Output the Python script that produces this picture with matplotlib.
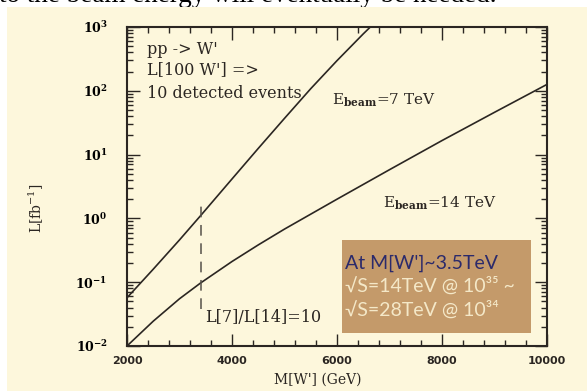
import numpy as np
import matplotlib
matplotlib.use("Agg")
import matplotlib.pyplot as plt
from matplotlib.patches import Rectangle
from matplotlib.ticker import MultipleLocator, LogLocator, FuncFormatter, NullFormatter

# luminosity needed for 10 detected W' events
mass_7 = [2000, 2500, 3000, 3400, 4000, 4500, 5000, 5500, 6000, 6500, 7000]
lumi_7 = [0.057, 0.16, 0.46, 1.1, 4.15, 12.5, 37, 108, 297, 780, 1960]

mass_14 = [2000, 2500, 3000, 3400, 4000, 4500, 5000, 6000, 7000, 8000, 9000, 10000]
lumi_14 = [0.010, 0.0245, 0.055, 0.097, 0.211, 0.384, 0.68, 2.0, 5.8, 16.6, 46, 126]

ratio_mass = [3400, 3400]
ratio_lumi = [0.038, 1.9]

x_ticks = [2000, 4000, 6000, 8000, 10000]

cream = "#fdf7dc"
ink = "#2b2622"

plt.rcParams["mathtext.fontset"] = "dejavuserif"

fig = plt.figure(figsize=(5.87, 3.91), dpi=100, facecolor="white")
fig.patches.append(Rectangle((7 / 587, 0), 1, (391 - 7) / 391, transform=fig.transFigure,
                             facecolor=cream, edgecolor="none", zorder=-1))
fig.text(-0.002, 0.994, "to the beam energy will eventually be needed.", family="Liberation Serif",
         fontsize=19.5, va="baseline", ha="left", zorder=-2)

ax = fig.add_axes([127 / 587, 1 - 346 / 391, 420 / 587, 319 / 391])
ax.set_facecolor(cream)

ax.plot(mass_7, lumi_7, color=ink, lw=1.2)
ax.plot(mass_14, lumi_14, color=ink, lw=1.2)
ax.plot(ratio_mass, ratio_lumi, color="#555049", lw=1.1, dashes=(7, 5))

ax.set_yscale("log")
ax.set_xlim(2000, 10000)
ax.set_ylim(1e-2, 1e3)

ax.set_xticks(x_ticks)
ax.xaxis.set_minor_locator(MultipleLocator(400))
ax.yaxis.set_major_locator(LogLocator(base=10, numticks=10))
ax.yaxis.set_minor_locator(LogLocator(base=10, subs=np.arange(2, 10), numticks=20))
ax.yaxis.set_minor_formatter(NullFormatter())
ax.yaxis.set_major_formatter(FuncFormatter(lambda v, p: r"$\mathbf{10^{%d}}$" % round(np.log10(v))))

ax.tick_params(which="both", direction="in", top=True, right=True, color=ink, width=1.0)
ax.tick_params(which="major", length=9)
ax.tick_params(which="minor", length=4.5)
ax.tick_params(axis="x", pad=7, labelsize=8)
ax.tick_params(axis="y", pad=14, labelsize=9)
for lab in ax.get_xticklabels():
    lab.set_fontweight("bold")
    lab.set_color(ink)
for s in ax.spines.values():
    s.set_linewidth(1.5)
    s.set_color(ink)

ax.set_xlabel("M[W'] (GeV)", family="DejaVu Serif", fontsize=10, color=ink)
ax.xaxis.set_label_coords(0.455, -0.085)
ax.set_ylabel(r"L[fb$^{-1}$]", family="DejaVu Serif", fontsize=10, color=ink)
ax.yaxis.set_label_coords(-0.193, 0.433)

txt = dict(family="DejaVu Serif", fontsize=11.5, color=ink, transform=ax.transAxes, va="center")
ax.text(0.048, 0.928, "pp -> W'", **txt)
ax.text(0.048, 0.865, "L[100 W'] =>", **txt)
ax.text(0.048, 0.793, "10 detected events", **txt)
ax.text(0.488, 0.771, r"E$_{\mathbf{beam}}$=7 TeV", **dict(txt, fontsize=11))
ax.text(0.61, 0.448, r"E$_{\mathbf{beam}}$=14 TeV", **dict(txt, fontsize=11))
ax.text(0.186, 0.088, "L[7]/L[14]=10", **txt)

# brown slide box
box = Rectangle(((342 - 127) / 420, (346 - 333) / 319), (531 - 342) / 420, (333 - 240) / 319,
                transform=ax.transAxes, facecolor="#c49a6a", edgecolor="none", zorder=3)
ax.add_patch(box)
btxt = dict(family=["Lato", "DejaVu Sans"], fontsize=14, transform=ax.transAxes, va="center", zorder=4)
ax.text((345 - 127) / 420, (346 - 263) / 319, "At M[W']~3.5TeV", color="#2b2a6b", **btxt)
ax.text((345 - 127) / 420, (346 - 286) / 319, "√S=14TeV @ 10³⁵ ~", color="#f4e8c8", **btxt)
ax.text((345 - 127) / 420, (346 - 310) / 319, "√S=28TeV @ 10³⁴", color="#f4e8c8", **btxt)

fig.savefig("out.png", dpi=100, facecolor=fig.get_facecolor())
